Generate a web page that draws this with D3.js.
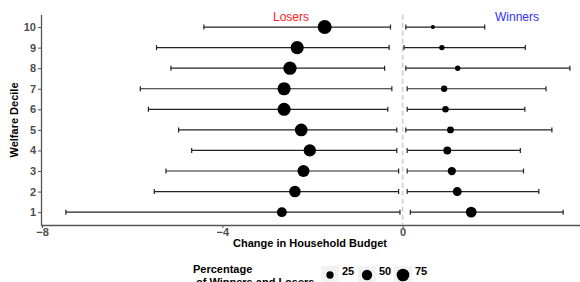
<!DOCTYPE html>
<html>
<head>
<meta charset="utf-8">
<script src="https://cdn.jsdelivr.net/npm/d3@7/dist/d3.min.js"></script>
<style>
	body { margin: 0; background: #fff; }
	svg { display: block; font-family: 'Liberation Sans', Arial, sans-serif; }
</style>
</head>
<body>
<svg id="chart" width="580" height="282"></svg>
<script>
(function() {
	'use strict';

	// welfare deciles, bottom to top
	var deciles = [1, 2, 3, 4, 5, 6, 7, 8, 9, 10];

	// losers: mean change, interval low/high, share of households (%)
	var loserMean = [-2.68, -2.39, -2.20, -2.06, -2.25, -2.63, -2.63, -2.50, -2.34, -1.73];
	var loserLow  = [-7.47, -5.51, -5.25, -4.68, -4.97, -5.64, -5.82, -5.14, -5.46, -4.41];
	var loserHigh = [-0.06, -0.09, -0.09, -0.13, -0.13, -0.33, -0.24, -0.40, -0.30, -0.27];
	var loserPct  = [46, 62, 68, 71, 76, 80, 81, 83, 82, 92];

	// winners
	var winnerMean = [1.52, 1.21, 1.09, 0.99, 1.06, 0.95, 0.92, 1.22, 0.87, 0.67];
	var winnerLow  = [0.17, 0.10, 0.10, 0.10, 0.07, 0.10, 0.10, 0.07, 0.03, 0.07];
	var winnerHigh = [3.56, 3.02, 2.68, 2.61, 3.31, 2.71, 3.18, 3.71, 2.72, 1.82];
	var winnerPct  = [54, 38, 32, 29, 22, 20, 19, 14, 14, 8];

	var xTicks = [-8, -4, 0];
	var legendPcts = [25, 50, 75];

	var svg = d3.select('#chart');
	var x = d3.scaleLinear().domain([-8, 4]).range([42, 583]);
	var y = d3.scaleLinear().domain([0.4, 10.6]).range([224.5, 14.7]);
	var r = d3.scaleSqrt().domain([0, 100]).range([0, 7.3]);

	var rows = [];
	deciles.forEach(function(d, i) {
		rows.push({dec: d, mean: loserMean[i], lo: loserLow[i], hi: loserHigh[i], pct: loserPct[i]});
		rows.push({dec: d, mean: winnerMean[i], lo: winnerLow[i], hi: winnerHigh[i], pct: winnerPct[i]});
	});

	// zero line
	svg.append('line')
		.attr('x1', x(0)).attr('x2', x(0))
		.attr('y1', y(10.6)).attr('y2', y(0.4))
		.attr('stroke', '#cfcfcf')
		.attr('stroke-width', 1.6)
		.attr('stroke-dasharray', '5,3');

	// axes
	var xAxis = svg.append('g')
		.attr('transform', 'translate(0,' + 225 + ')')
		.call(d3.axisBottom(x).tickValues(xTicks).tickSize(3).tickFormat(d3.format('d')));
	xAxis.select('.domain').attr('d', 'M41,0.5H580').attr('stroke', '#555').attr('stroke-width', 1.3);
	xAxis.selectAll('.tick line').attr('stroke', '#555');
	xAxis.selectAll('.tick text')
		.attr('y', 3)
		.attr('fill', '#4d4d4d')
		.style('font-size', '11px').style('font-weight', 'bold')
		.style('font-family', "'Liberation Sans', Arial, sans-serif");

	var yAxis = svg.append('g')
		.attr('transform', 'translate(41,0)')
		.call(d3.axisLeft(y).tickValues(deciles).tickSize(3).tickFormat(d3.format('d')));
	yAxis.select('.domain').attr('d', 'M0.5,15V225.5').attr('stroke', '#555').attr('stroke-width', 1.3);
	yAxis.selectAll('.tick line').attr('stroke', '#555');
	yAxis.selectAll('.tick text')
		.attr('x', -5)
		.attr('fill', '#4d4d4d')
		.style('font-size', '11px').style('font-weight', 'bold')
		.style('font-family', "'Liberation Sans', Arial, sans-serif");

	svg.append('text')
		.attr('x', 310).attr('y', 247)
		.attr('text-anchor', 'middle')
		.style('font-size', '11px').style('font-weight', 'bold')
		.text('Change in Household Budget');

	svg.append('text')
		.attr('transform', 'translate(18,120) rotate(-90)')
		.attr('text-anchor', 'middle')
		.style('font-size', '11px').style('font-weight', 'bold')
		.text('Welfare Decile');

	svg.append('text')
		.attr('x', 291).attr('y', 21)
		.attr('text-anchor', 'middle')
		.attr('fill', '#ff2020')
		.style('font-size', '12px')
		.text('Losers');
	svg.append('text')
		.attr('x', 517).attr('y', 21)
		.attr('text-anchor', 'middle')
		.attr('fill', '#2f2fff')
		.style('font-size', '12px')
		.text('Winners');

	// error bars
	var bars = svg.append('g').selectAll('g').data(rows).join('g')
		.attr('stroke', '#222').attr('stroke-width', 1.2);
	bars.append('line')
		.attr('x1', function(d) { return x(d.lo); })
		.attr('x2', function(d) { return x(d.hi); })
		.attr('y1', function(d) { return y(d.dec); })
		.attr('y2', function(d) { return y(d.dec); });
	bars.append('line')
		.attr('x1', function(d) { return x(d.lo); })
		.attr('x2', function(d) { return x(d.lo); })
		.attr('y1', function(d) { return y(d.dec) - 2.5; })
		.attr('y2', function(d) { return y(d.dec) + 2.5; });
	bars.append('line')
		.attr('x1', function(d) { return x(d.hi); })
		.attr('x2', function(d) { return x(d.hi); })
		.attr('y1', function(d) { return y(d.dec) - 2.5; })
		.attr('y2', function(d) { return y(d.dec) + 2.5; });

	svg.append('g').selectAll('circle').data(rows).join('circle')
		.attr('cx', function(d) { return x(d.mean); })
		.attr('cy', function(d) { return y(d.dec); })
		.attr('r', function(d) { return r(d.pct); })
		.attr('fill', '#000');

	// legend
	var legend = svg.append('g');
	legend.append('text')
		.attr('x', 193).attr('y', 273)
		.style('font-size', '11px').style('font-weight', 'bold')
		.text('Percentage');
	legend.append('text')
		.attr('x', 196).attr('y', 286)
		.style('font-size', '11px').style('font-weight', 'bold')
		.text('of Winners and Losers');

	var keyX = [330, 367, 403];
	var keys = legend.selectAll('g.key').data(legendPcts).join('g')
		.attr('class', 'key')
		.attr('transform', function(d, i) { return 'translate(' + keyX[i] + ',275)'; });
	keys.append('rect')
		.attr('x', -9).attr('y', -9).attr('width', 18).attr('height', 18)
		.attr('fill', '#f2f2f2');
	keys.append('circle')
		.attr('r', function(d) { return r(d); })
		.attr('fill', '#000');
	keys.append('text')
		.attr('x', 12).attr('y', 0)
		.style('font-size', '11px').style('font-weight', 'bold')
		.text(function(d) { return d; });
})();
</script>
</body>
</html>
